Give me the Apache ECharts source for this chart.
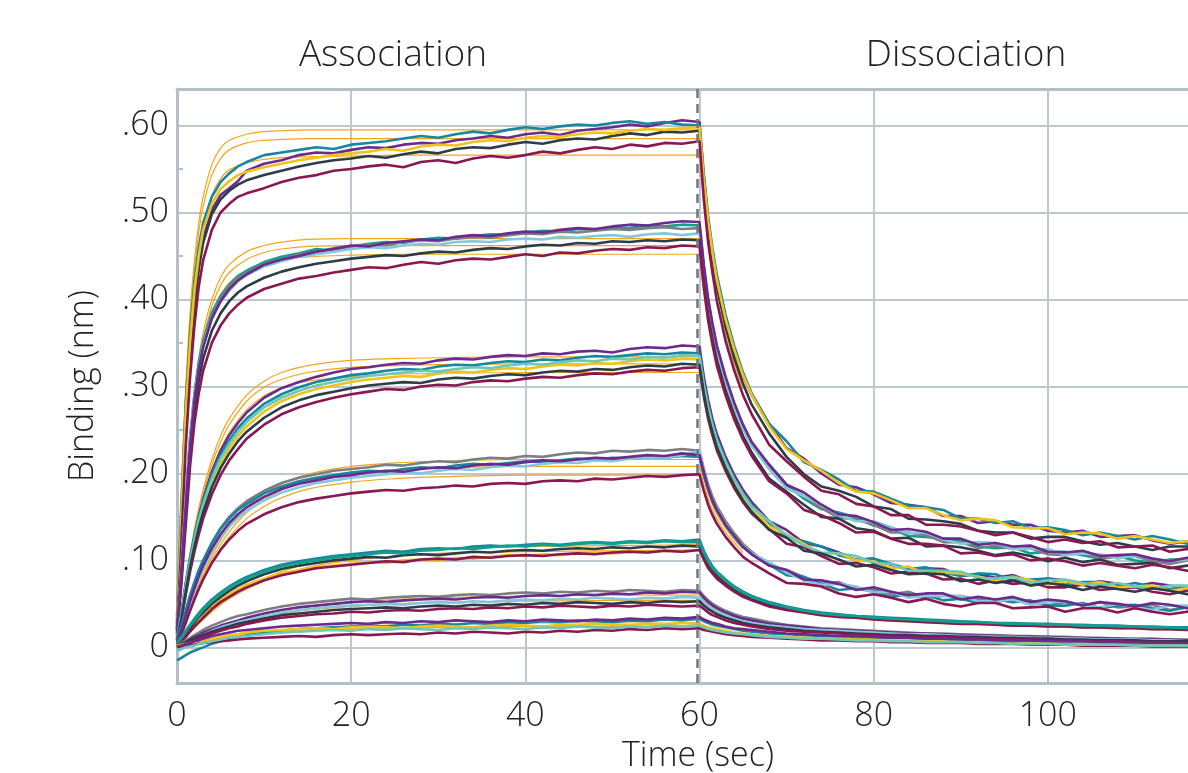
<!DOCTYPE html>
<html><head><meta charset="utf-8">
<script src="https://cdn.jsdelivr.net/npm/echarts/dist/echarts.min.js"></script>
<style>html,body{margin:0;padding:0;background:#fff}#c{width:1188px;height:773px}</style>
</head><body><div id="c"></div>
<script>
// time points (sec) shared by all measured traces
const T = [0,0.5,1,1.5,2,2.5,3,4,5,6,7,8,10,12,14,16,18,20,22,24,26,28,30,32,34,36,38,40,42,44,46,48,50,52,54,56,58,60,60.5,61,61.5,62,63,64,65,66,68,70,72,74,76,78,80,82,84,86,88,90,92,94,96,98,100,102,104,106,108,110,112,114,116,118,120];
// time points for fitted curves
const TF = [0,0.5,1,1.5,2,2.5,3,4,5,6,8,10,12,15,20,25,30,40,50,60];
const TFD = [60,60.5,61,61.5,62,63,64,65];

// binding values in thousandths of nm, one row per sensor trace
const level1 = [
[25,140,255,335,398,440,470,503,520,528,536,548,556,560,566,569,568,572,575,574,578,580,579,583,585,588,586,590,592,589,594,596,598,601,599,603,606,604,540,490,452,420,375,340,312,290,257,229,217,200,187,184,176,166,164,161,151,151,143,145,141,141,134,132,134,127,128,129,123,119,122,118,115],
[35,165,280,360,420,460,488,518,535,545,553,558,566,569,572,575,573,578,580,582,585,588,586,590,593,591,595,598,596,599,601,600,603,605,602,604,601,600,545,495,458,428,382,346,316,292,257,237,213,204,193,180,179,171,163,161,158,148,148,143,145,137,138,135,129,132,128,124,128,124,119,122,117],
[28,135,250,330,392,435,465,498,515,525,532,537,543,548,553,557,560,562,565,563,567,570,568,573,575,574,578,581,579,583,585,584,588,591,589,593,592,594,532,482,446,414,368,332,303,279,246,219,199,185,180,173,162,159,148,147,145,142,134,132,132,125,127,127,122,118,120,116,112,116,116,110,112],
[32,150,268,350,410,450,480,510,527,536,543,547,552,556,560,563,566,568,570,573,571,576,578,577,581,583,582,586,588,587,590,592,591,594,596,595,597,598,538,490,453,422,377,342,313,290,254,228,215,203,189,179,177,169,160,160,152,146,148,146,138,137,137,130,132,131,125,128,124,120,122,123,116],
[20,120,230,310,370,415,445,480,500,510,518,522,528,535,540,543,548,550,553,555,552,558,560,557,562,565,563,566,570,568,572,575,573,578,576,580,579,582,515,465,430,398,352,318,290,268,233,214,196,180,176,165,162,152,152,141,141,139,134,129,132,127,121,124,120,122,115,116,117,110,113,110,112]
];
const level2 = [
[22,95,172,242,292,328,352,385,404,417,427,433,443,449,453,458,456,461,464,466,465,469,471,470,473,475,474,477,479,478,481,480,483,482,485,484,486,485,437,398,369,344,309,279,254,235,210,187,171,159,155,149,140,137,128,127,125,123,116,114,115,108,110,110,106,102,105,100,97,101,101,95,97],
[18,88,165,236,287,323,348,381,401,415,425,431,441,446,452,455,459,461,463,462,466,468,467,470,472,471,474,476,475,478,477,479,481,480,482,483,481,482,434,395,366,341,306,277,252,232,206,183,174,160,149,147,141,132,132,129,121,121,114,117,113,114,107,106,109,102,104,105,99,96,100,97,94],
[20,92,168,238,288,322,346,378,397,410,421,428,438,444,449,452,455,458,460,459,462,464,463,466,467,466,469,470,469,472,471,473,474,472,475,476,474,476,430,392,362,338,303,275,251,232,205,183,174,164,152,145,145,138,131,132,124,119,121,120,113,113,113,106,108,107,102,106,102,99,101,102,95],
[16,80,152,222,272,307,332,364,384,398,408,415,425,432,437,441,444,447,449,451,450,453,455,454,457,459,458,461,463,462,465,464,467,466,468,467,469,468,421,382,354,330,295,267,243,224,194,179,164,150,148,137,134,125,126,116,117,115,111,106,109,105,99,103,98,101,95,96,97,91,94,91,93],
[14,72,140,208,258,292,318,350,370,384,394,402,412,418,424,427,431,434,437,436,440,443,441,445,447,446,449,452,450,454,453,456,458,457,460,459,462,461,414,376,348,324,290,262,239,220,191,177,158,152,143,132,133,125,119,119,117,108,109,105,107,100,102,99,94,97,94,91,95,92,88,91,87],
[20,88,162,232,284,320,345,378,398,412,422,429,440,446,450,455,458,462,461,465,467,469,468,472,474,473,476,478,477,480,482,481,484,486,485,488,490,489,440,401,372,347,311,281,256,236,210,187,178,164,153,151,144,135,136,133,125,125,118,120,116,117,110,109,111,105,106,107,102,99,103,100,97]
];
const level3 = [
[10,38,72,102,127,150,170,202,226,244,258,270,287,298,305,311,316,320,322,325,327,326,330,332,331,334,336,335,338,337,340,341,339,343,345,344,347,346,311,284,262,245,219,198,181,167,145,135,120,116,109,100,102,95,90,91,90,82,84,80,83,76,79,77,72,76,73,70,74,71,67,70,66],
[12,40,74,103,128,150,168,198,221,238,252,263,280,291,299,305,309,313,315,318,320,319,323,325,324,327,329,328,331,330,333,335,334,336,338,337,339,338,305,278,257,240,215,194,177,164,143,127,122,116,106,101,102,96,90,92,86,82,85,84,77,78,79,72,75,75,70,74,70,67,69,70,63],
[8,30,60,87,110,130,148,176,198,215,228,240,256,268,276,282,287,291,294,297,296,300,302,301,305,307,306,309,311,310,313,315,314,317,319,318,321,322,289,263,244,227,203,183,167,154,136,119,115,105,96,97,92,85,87,85,78,79,73,77,73,75,69,69,72,66,68,69,64,61,65,62,59],
[10,34,66,94,118,140,158,188,211,229,243,254,271,283,291,297,301,305,308,310,312,311,315,317,316,319,321,320,323,325,324,327,326,329,331,330,332,331,299,272,252,236,211,191,174,161,139,130,119,108,108,100,99,91,93,84,86,85,81,77,81,77,72,76,72,75,69,70,71,65,68,65,67],
[11,37,70,99,124,146,164,194,217,234,248,259,276,287,295,301,305,309,312,314,316,318,317,320,322,321,324,326,325,328,330,329,332,331,334,333,336,335,301,275,255,238,213,193,176,162,145,129,117,109,108,105,97,96,88,88,88,87,80,79,81,74,77,78,74,71,74,70,67,71,71,65,67],
[9,33,64,92,116,137,155,184,206,223,237,248,264,276,284,290,294,298,301,303,305,304,308,310,309,312,314,313,316,318,317,320,319,322,324,323,326,325,292,266,247,230,206,186,169,156,135,126,111,108,101,93,95,89,84,85,84,76,78,74,77,71,74,71,66,70,67,64,68,65,61,64,60]
];
const level4 = [
[8,22,38,56,72,87,99,120,137,150,160,168,180,189,195,199,203,205,207,210,209,212,214,213,216,218,217,220,219,222,224,223,226,225,227,226,228,226,205,187,173,162,145,131,119,110,94,89,81,73,75,67,67,61,64,57,59,59,55,52,56,53,48,52,48,52,46,47,49,43,46,44,46],
[10,25,42,60,75,89,100,120,136,148,158,165,177,185,191,195,198,201,203,202,205,207,206,209,211,210,212,214,213,215,217,216,218,217,219,218,220,219,198,181,167,157,140,127,115,107,95,83,81,73,66,68,64,58,61,60,54,56,51,55,52,54,48,48,51,45,48,49,45,42,46,44,41],
[6,18,33,49,64,78,90,110,126,139,149,157,169,178,184,189,192,195,197,199,201,200,203,205,204,207,209,208,211,213,212,215,214,217,219,218,221,226,202,184,170,159,142,128,117,108,98,86,77,72,73,70,63,64,57,59,59,59,53,53,55,49,52,53,49,46,50,46,43,48,48,42,45],
[5,15,28,42,55,67,78,97,112,124,134,142,153,161,167,171,174,177,179,181,180,183,184,186,185,188,189,188,191,192,191,194,193,195,197,196,198,199,180,164,152,142,127,115,104,97,85,74,73,70,62,58,61,57,52,56,50,47,51,51,45,46,47,41,45,45,40,45,41,38,41,42,36],
[7,20,36,53,68,82,94,114,130,143,153,161,173,182,188,192,196,198,201,203,202,205,207,206,209,211,210,213,215,214,216,218,217,219,221,220,223,221,201,183,169,158,141,128,116,107,94,89,78,77,73,66,69,64,60,62,62,55,58,55,58,52,55,53,48,52,50,47,51,49,45,48,45]
];
const level5 = [
[4,9,15,21,27,33,38,47,55,61,67,72,79,85,89,92,94,96,98,97,100,101,100,103,102,104,106,105,107,106,108,109,108,110,109,111,110,112,101,92,85,80,71,64,59,55,48,43,40,37,35,34,32,31,30,29,28,27,27,26,25,25,24,24,23,23,22,22,21,21,20,20,20],
[5,10,16,22,29,35,40,50,58,65,71,76,84,90,94,97,100,102,104,103,106,107,106,108,110,109,111,112,111,113,114,113,115,114,116,115,117,116,105,95,88,82,73,66,60,56,49,44,41,38,36,35,33,32,31,30,29,28,28,27,26,26,25,25,24,24,23,23,22,22,21,21,21],
[6,12,19,26,33,39,45,55,63,70,76,81,89,95,99,102,105,107,109,111,110,113,114,113,116,117,116,118,119,118,120,121,120,122,121,123,122,124,111,101,93,87,78,70,64,59,52,47,43,40,38,36,35,34,33,32,31,30,29,28,28,27,27,26,26,25,25,24,24,23,23,22,22],
[3,7,12,18,24,29,34,44,52,58,64,69,77,83,87,91,93,95,97,99,98,101,102,101,104,103,105,106,105,107,108,107,109,110,109,111,110,112,101,91,85,79,71,64,58,54,47,43,40,37,35,34,32,31,30,29,28,27,27,26,25,25,24,24,23,23,22,22,21,21,20,20,19],
[5,11,18,25,31,37,43,53,61,68,74,79,87,93,97,100,103,105,107,109,108,111,112,114,113,115,117,116,118,117,119,120,119,121,120,122,121,121,109,99,91,86,77,69,63,58,51,46,42,39,37,36,34,33,32,31,30,29,29,28,27,27,26,26,25,25,24,24,23,23,22,22,22]
];
const level6 = [
[2,5,8,11,14,17,20,25,29,33,36,38,43,47,50,52,54,56,55,57,58,59,58,60,61,60,62,63,62,64,63,65,64,66,65,64,66,65,59,54,50,47,42,38,35,33,29,26,24,22,21,20,19,18,17,16,16,15,14,14,13,13,12,12,11,11,10,10,10,9,9,8,8],
[1,3,6,9,12,14,17,21,25,28,31,34,39,43,46,48,50,52,53,52,54,55,56,55,57,58,57,59,60,59,61,60,62,61,63,62,64,63,57,52,48,45,40,36,33,31,27,25,23,21,20,19,18,17,16,16,15,14,14,13,13,12,12,11,11,10,10,9,9,9,8,8,8],
[-5,-2,2,5,8,11,14,19,23,26,29,31,36,40,43,45,47,48,49,50,49,51,52,51,53,52,54,55,54,56,55,57,56,55,57,56,58,57,52,47,44,41,37,33,30,28,25,23,21,20,19,18,17,16,15,15,14,13,13,12,12,11,11,10,10,9,9,9,8,8,7,7,6],
[3,4,6,8,10,12,14,18,21,24,27,29,33,37,39,41,43,44,45,46,45,47,48,47,49,48,50,49,51,50,52,51,50,52,51,53,52,53,48,44,41,38,34,31,28,26,23,21,19,18,17,16,15,14,14,13,13,12,12,11,11,10,10,9,9,8,8,8,7,7,7,6,6],
[0,2,4,6,8,10,12,16,19,22,24,27,31,34,36,38,39,41,40,42,43,42,44,45,44,46,45,47,46,48,47,46,48,47,49,48,47,48,44,40,37,35,31,28,26,24,21,19,18,17,16,15,14,13,13,12,12,11,10,10,9,9,8,8,8,7,7,6,6,6,5,5,4]
];
const level7 = [
[-15,-12,-9,-6,-4,-2,0,4,7,10,12,14,17,19,21,22,23,24,25,24,26,25,27,26,28,27,29,28,30,29,31,30,29,31,30,32,31,33,30,28,26,25,23,21,19,18,16,15,14,13,12,11,11,10,10,9,9,8,8,7,7,6,6,6,5,5,5,4,4,4,3,3,3],
[2,3,4,5,6,7,8,10,12,14,15,17,19,20,21,22,21,23,24,23,22,24,25,24,23,25,26,25,24,26,25,27,26,25,27,26,28,27,25,23,22,21,19,17,16,15,13,12,11,10,10,9,9,8,8,7,7,6,6,6,5,5,5,4,4,4,3,3,3,2,2,2,2],
[0,1,2,3,3,4,5,6,7,8,9,10,11,12,13,12,14,15,14,15,16,15,17,16,18,17,16,18,17,19,18,20,19,21,20,22,21,22,20,19,18,17,15,14,13,12,11,10,9,8,8,7,7,6,6,5,5,5,4,4,4,3,3,3,2,2,2,2,1,1,1,1,1],
[1,2,4,5,7,8,10,13,15,17,19,20,22,24,25,26,27,28,27,29,28,30,29,31,30,29,31,30,32,31,30,32,31,33,32,34,33,35,32,30,28,27,24,22,21,20,18,16,15,14,13,13,12,11,11,10,10,9,9,8,8,8,7,7,7,6,6,6,5,5,5,4,4],
[-3,-2,0,1,2,4,5,7,9,11,12,13,15,17,18,19,20,19,21,20,22,21,20,22,21,23,22,21,23,22,24,23,22,24,23,25,24,25,23,21,20,19,17,16,15,14,12,11,10,10,9,8,8,7,7,6,6,6,5,5,4,4,4,3,3,3,3,2,2,2,2,1,1]
];

// fitted curves (thousandths of nm): association on TF, dissociation on TFD
const fitAssoc = [
[0,175,298,385,445,488,518,555,574,583,590,593,594,595,595,595,595,595,595,595],
[0,170,290,375,435,477,507,543,562,572,580,583,584,585,585,585,585,585,585,585],
[0,160,275,357,415,456,485,520,539,549,557,561,563,564,565,566,566,566,566,566],
[0,100,180,245,295,333,362,400,425,440,455,462,466,469,470,470,470,470,470,470],
[0,97,175,239,288,325,354,392,416,431,446,454,458,461,462,462,462,462,462,462],
[0,94,170,232,280,316,344,381,405,419,434,442,446,449,451,452,452,452,452,452],
[0,40,76,108,136,160,181,216,243,263,290,306,316,324,330,332,333,334,334,334],
[0,39,74,105,132,156,176,210,236,256,283,299,308,316,322,324,325,326,326,326],
[0,37,71,101,127,150,170,203,228,247,273,289,298,306,311,314,315,316,316,316],
[0,16,31,46,59,72,84,105,123,138,161,177,188,199,208,212,214,216,216,216],
[0,15,30,44,57,69,81,101,118,133,155,170,181,192,200,204,206,208,208,208],
[0,14,28,42,54,66,77,96,113,127,148,162,172,182,190,194,196,198,198,198],
[0,6,12,18,24,29,34,43,51,58,70,79,87,96,105,110,113,116,117,118],
[0,6,11,17,22,27,32,41,49,56,67,76,83,92,100,105,108,110,111,112],
[0,3,6,9,11,14,16,20,24,27,33,38,42,47,52,55,57,59,60,60],
[0,3,5,8,10,12,14,18,22,25,30,34,38,43,47,50,52,53,54,54],
[0,1,3,4,5,6,7,9,11,13,16,18,20,22,24,26,27,28,28,28],
[0,1,2,3,4,5,6,8,10,11,14,16,17,19,21,22,23,24,24,24]
];
const fitDissoc = [
[595,536,488,452,422,378,342,312],
[585,527,480,445,415,371,336,307],
[566,509,464,430,402,359,325,297],
[470,423,385,357,334,298,270,247],
[462,416,379,351,328,293,266,243],
[452,407,371,344,321,287,260,237],
[334,301,274,254,237,212,192,175],
[326,293,267,248,231,207,187,171],
[316,284,259,240,224,201,182,166],
[216,194,177,164,153,137,124,113],
[208,187,171,158,148,132,120,109],
[198,178,162,150,141,126,114,104],
[118,106,97,90,84,75,68,62],
[112,101,92,85,80,71,64,59],
[60,54,49,46,43,38,35,32],
[54,49,44,41,38,34,31,28],
[28,25,23,21,20,18,16,15],
[24,22,20,18,17,15,14,13]
];

const xTicks = [0,20,40,60,80,100];
const yTicks = [0,0.1,0.2,0.3,0.4,0.5,0.6];
const yMinor = [0.05,0.15,0.25,0.35,0.45,0.55];

const C = {purple:'#6b2a8e', teal:'#17879e', maroon:'#8a1752', slate:'#2c3d47', gray:'#7b7f83', yellow:'#f1c21b', lblue:'#86c7da', mint:'#6ec8b8', gteal:'#10a08e', fit:'#f3a51a'};
const levels = [level1, level2, level3, level4, level5, level6, level7];
const levelColors = [
  ['purple','teal','slate','yellow','maroon'],
  ['gteal','gray','lblue','slate','maroon','purple'],
  ['purple','teal','maroon','yellow','mint','slate'],
  ['gray','teal','lblue','maroon','purple'],
  ['yellow','slate','teal','maroon','gteal'],
  ['gray','purple','lblue','slate','maroon'],
  ['teal','yellow','maroon','purple','mint']
];

const pts = (xs, ys) => ys.map((v, i) => [xs[i], v / 1000]);
const series = [];
fitAssoc.forEach((f, i) => {
  series.push({type:'line', data: pts(TF, f), smooth: 0.35, showSymbol:false, silent:true,
    lineStyle:{color:C.fit, width:1.2}, z:2});
  series.push({type:'line', data: pts(TFD, fitDissoc[i]), smooth: 0.2, showSymbol:false, silent:true,
    lineStyle:{color:C.fit, width:1.2}, z:2});
});
levels.forEach((lv, li) => {
  lv.forEach((tr, ti) => {
    series.push({type:'line', data: pts(T, tr), showSymbol:false, silent:true,
      lineStyle:{color:C[levelColors[li][ti]], width:2.6}, z:3});
  });
});
series[0].markLine = {silent:true, symbol:'none', label:{show:false},
  lineStyle:{color:'#6e767b', width:2.5, type:[9,6]}, data:[{xAxis:59.7}]};

const font = "'Open Sans', Lato, sans-serif";
const txt = '#222222';
const axisGray = '#b4c0c8';
const XMAX = 116.1;
const chart = echarts.init(document.getElementById('c'), null, {renderer:'canvas'});
chart.setOption({
  animation:false,
  backgroundColor:'#ffffff',
  textStyle:{fontFamily:font, fontWeight:300},
  grid:{left:177, right:0, top:89, bottom:90},
  xAxis:[{type:'value', min:0, max:XMAX,
    axisLine:{onZero:false, lineStyle:{color:axisGray, width:3}},
    axisTick:{show:false, customValues:xTicks},
    splitLine:{lineStyle:{color:'#bcc7cf', width:2}},
    axisLabel:{customValues:xTicks, fontSize:34, color:txt, margin:16, fontFamily:font, fontWeight:300}},
   {type:'value', min:0, max:XMAX, position:'top',
    axisLine:{show:true, onZero:false, lineStyle:{color:axisGray, width:3}},
    axisTick:{show:false}, axisLabel:{show:false}, splitLine:{show:false}}],
  yAxis:[{type:'value', min:-0.041, max:0.642,
    axisLine:{show:true, onZero:false, lineStyle:{color:axisGray, width:3}},
    axisTick:{show:false, customValues:yTicks},
    splitLine:{show:true, lineStyle:{color:'#bcc7cf', width:2}},
    axisLabel:{customValues:yTicks, fontSize:34, color:txt, margin:8, fontFamily:font, fontWeight:300,
      formatter: v => v === 0 ? '0' : v.toFixed(2).replace(/^0/, '')},
    name:'Binding (nm)', nameLocation:'middle', nameGap:77, nameRotate:90,
    nameTextStyle:{fontSize:34, color:txt, fontFamily:font, fontWeight:300}},
   {type:'value', min:-0.041, max:0.642, position:'left',
    axisLine:{show:false}, axisLabel:{show:false}, splitLine:{show:false},
    axisTick:{show:true, inside:true, length:6, customValues:yMinor, lineStyle:{color:axisGray, width:2}}}],
  graphic:[
    {type:'text', x:393, y:55, style:{text:'Association', fontSize:37, fontFamily:font, fontWeight:300, fill:txt, textAlign:'center', textVerticalAlign:'middle'}},
    {type:'text', x:966, y:55, style:{text:'Dissociation', fontSize:37, fontFamily:font, fontWeight:300, fill:txt, textAlign:'center', textVerticalAlign:'middle'}},
    {type:'text', x:698, y:756, style:{text:'Time (sec)', fontSize:34, fontFamily:font, fontWeight:300, fill:txt, textAlign:'center', textVerticalAlign:'middle'}}
  ],
  series: series
});
</script>
</body></html>
